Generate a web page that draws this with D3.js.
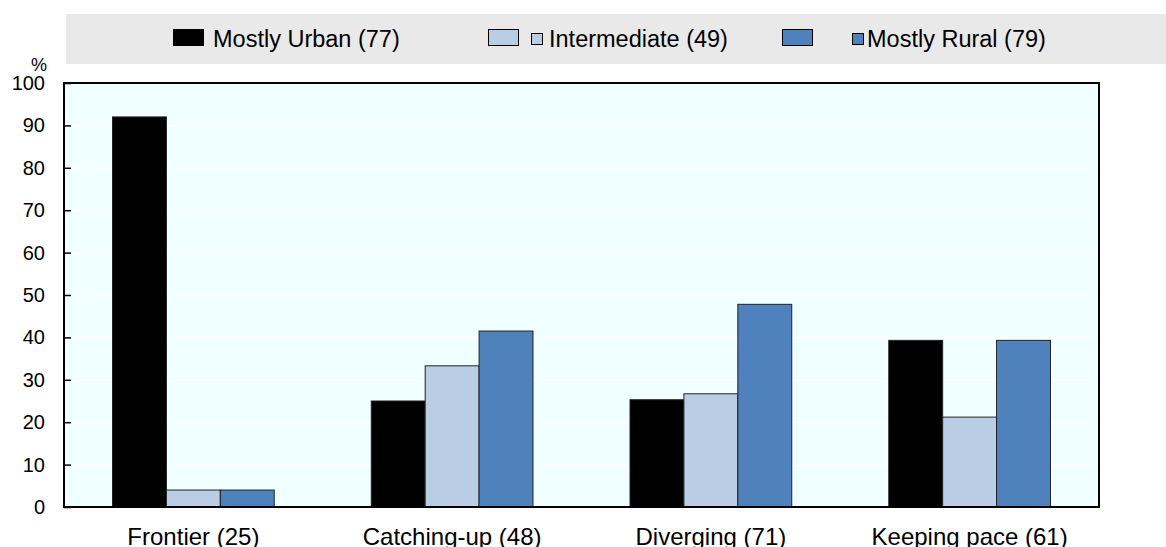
<!DOCTYPE html>
<html><head><meta charset="utf-8">
<script src="https://cdn.jsdelivr.net/npm/d3@7"></script>
<style>body{margin:0;background:#fff;}svg{display:block;font-family:"Liberation Sans",Arial,sans-serif;}</style>
</head><body><svg id="c" width="1166" height="547"></svg>
<script>
const categories = ["Frontier (25)", "Catching-up (48)", "Diverging (71)", "Keeping pace (61)"];
const seriesNames = ["Mostly Urban (77)", "Intermediate (49)", "Mostly Rural (79)"];
const mostlyUrban = [92, 25.0, 25.3, 39.3];
const intermediate = [4, 33.3, 26.7, 21.2];
const mostlyRural = [4, 41.5, 47.8, 39.3];
const yTicks = [0,10,20,30,40,50,60,70,80,90,100];
const colors = ["#000000", "#B9CDE5", "#4F81BD"];

const series = [mostlyUrban, intermediate, mostlyRural];
const svg = d3.select("#c");
const L = 64, R = 1099, T = 83, B = 507;

// legend band
svg.append("rect").attr("x",66).attr("y",14).attr("width",1100).attr("height",50).attr("fill","#E9E9E9");
const leg = [
  {big:173, small:null, text:213},
  {big:488, small:531, text:549},
  {big:782, small:852, text:867}
];
leg.forEach((p,i)=>{
  svg.append("rect").attr("x",p.big+0.5).attr("y",29.5).attr("width",30).attr("height",16)
    .attr("fill",colors[i]).attr("stroke","#000").attr("stroke-width",1);
  if(p.small!==null){
    svg.append("rect").attr("x",p.small+0.5).attr("y",33.5).attr("width",11).attr("height",11)
      .attr("fill",colors[i]).attr("stroke","#000").attr("stroke-width",1);
  }
  svg.append("text").attr("x",p.text).attr("y",47).attr("font-size",23.5).attr("fill","#000").text(seriesNames[i]);
});

const x = d3.scaleBand().domain(categories).range([L,R]).paddingInner(0).paddingOuter(0);
const x1 = d3.scaleBand().domain(d3.range(3)).range([0,x.bandwidth()]).paddingOuter(0.9).paddingInner(0);
const y = d3.scaleLinear().domain([0,100]).range([B,T]);

svg.append("rect").attr("x",L).attr("y",T).attr("width",R-L).attr("height",B-T).attr("fill","#F0FFFF");
svg.append("g").selectAll("line").data(yTicks.slice(1,-1)).join("line")
  .attr("x1",L).attr("x2",R).attr("y1",d=>Math.round(y(d))+0.5).attr("y2",d=>Math.round(y(d))+0.5)
  .attr("stroke","#fff").attr("stroke-width",1.5);

const g = svg.append("g");
categories.forEach((c,ci)=>{
  series.forEach((s,si)=>{
    g.append("rect").attr("x",x(c)+x1(si)).attr("y",y(s[ci])).attr("width",x1.bandwidth())
      .attr("height",B-y(s[ci])).attr("fill",colors[si]).attr("stroke","#222").attr("stroke-width",1);
  });
});

// frame
svg.append("rect").attr("x",L).attr("y",T).attr("width",R-L).attr("height",B-T)
  .attr("fill","none").attr("stroke","#000").attr("stroke-width",2);

// y axis
const ya = svg.append("g").attr("transform",`translate(${L},0)`)
  .call(d3.axisLeft(y).tickValues(yTicks).tickSize(-7).tickPadding(19).tickFormat(d3.format("d")));
ya.select(".domain").remove();
ya.selectAll("line").attr("stroke","#000").attr("stroke-width",1.5);
ya.selectAll("text").attr("font-size",20).attr("fill","#000").attr("font-family","Liberation Sans, Arial, sans-serif");

// x axis
const xa = svg.append("g").attr("transform",`translate(0,${B})`)
  .call(d3.axisBottom(x).tickSize(0).tickPadding(20));
xa.select(".domain").remove();
xa.selectAll("text").attr("font-size",24).attr("fill","#000").attr("dy","0").attr("y",38)
  .attr("font-family","Liberation Sans, Arial, sans-serif");

svg.append("text").attr("x",39).attr("y",71).attr("font-size",18).attr("text-anchor","middle").text("%");
</script></body></html>
